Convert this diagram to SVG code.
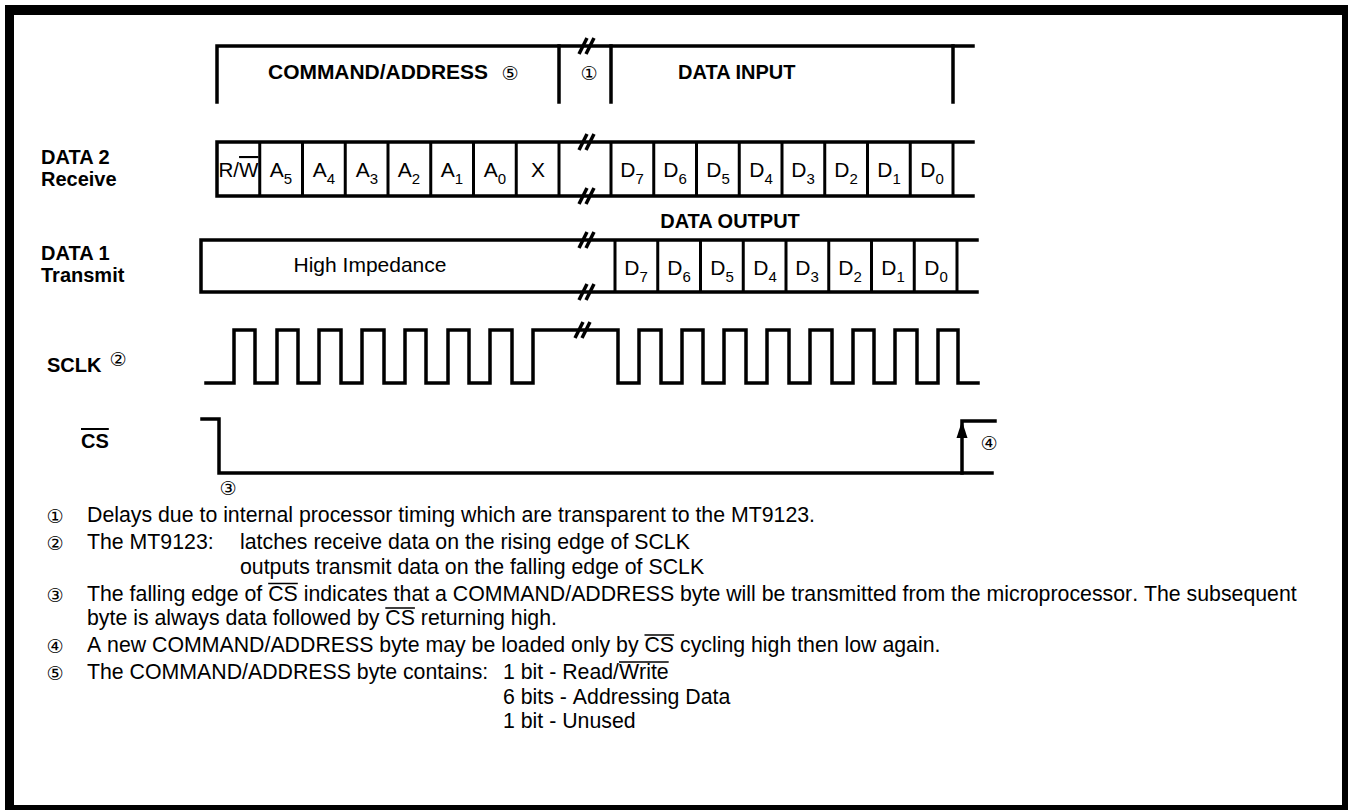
<svg xmlns="http://www.w3.org/2000/svg" xmlns:xlink="http://www.w3.org/1999/xlink" width="1348" height="811" viewBox="0 0 1348 811">
<defs>
<style>
.ln{stroke:#000;stroke-width:3.5;fill:none;stroke-linecap:square}
.cl{stroke:#000;stroke-width:3;fill:none}
.brk{stroke:#000;stroke-width:3.5;fill:none;stroke-linecap:butt}
.ovl{stroke:#000;stroke-width:1.4;fill:none}
.lbl{font-family:"Liberation Sans",Arial,sans-serif;font-weight:bold;font-size:20px;fill:#000}
.cell{font-family:"Liberation Sans",Arial,sans-serif;font-size:21px;text-anchor:middle;fill:#000}
.sub{font-size:15px}
.note{font-family:"Liberation Sans",Arial,sans-serif;font-size:21.3px;fill:#000;font-kerning:none}
.circ{font-family:"DejaVu Sans","Noto Sans CJK JP",sans-serif;font-size:19px;text-anchor:middle;fill:#000}
.ov{text-decoration:overline}
</style>
<path id="brk" class="brk" d="M-8,8 L0,-8 M-1,8 L7,-8"/>
</defs>
<rect width="1348" height="811" fill="#fff"/>
<path id="frame" d="M5,5 H1348 V810 H5 Z M14,15 V805 H1342 V15 Z" fill="#000" fill-rule="evenodd"/>

<g id="labels">
<text class="lbl" x="41" y="164">DATA 2</text>
<text class="lbl" x="41" y="186">Receive</text>
<text class="lbl" x="41" y="260">DATA 1</text>
<text class="lbl" x="41" y="282">Transmit</text>
<text class="lbl" x="47" y="372">SCLK</text>
<text class="circ" x="118" y="366">②</text>
<text class="lbl" x="81" y="448"><tspan class="ov">CS</tspan></text>
</g>

<g id="header">
<path class="ln" d="M217,102 V46 H973"/>
<path class="ln" d="M559,46 V102 M611,46 V102 M953,46 V102"/>
<use xlink:href="#brk" x="587" y="46"/>
<text class="lbl" x="268" y="79" textLength="220" lengthAdjust="spacingAndGlyphs">COMMAND/ADDRESS</text>
<text class="circ" x="510" y="80">⑤</text>
<text class="circ" x="589" y="80">①</text>
<text class="lbl" x="678" y="79">DATA INPUT</text>
</g>

<g id="data2">
<path class="ln" d="M973,142 H217 V196 H973"/>
<path class="cl" d="M259.75,142V196 M302.5,142V196 M345.25,142V196 M388,142V196 M430.75,142V196 M473.5,142V196 M516.25,142V196 M559,142V196 M611,142V196 M653.75,142V196 M696.5,142V196 M739.25,142V196 M782,142V196 M824.75,142V196 M867.5,142V196 M910.25,142V196 M953,142V196"/>
<use xlink:href="#brk" x="587" y="142"/>
<use xlink:href="#brk" x="587" y="196"/>
<text class="cell" x="238.5" y="177" textLength="40" lengthAdjust="spacingAndGlyphs">R/<tspan class="ov">W</tspan></text>
<text class="cell" x="281" y="177">A<tspan class="sub" dy="7">5</tspan></text>
<text class="cell" x="324" y="177">A<tspan class="sub" dy="7">4</tspan></text>
<text class="cell" x="367" y="177">A<tspan class="sub" dy="7">3</tspan></text>
<text class="cell" x="409" y="177">A<tspan class="sub" dy="7">2</tspan></text>
<text class="cell" x="452" y="177">A<tspan class="sub" dy="7">1</tspan></text>
<text class="cell" x="495" y="177">A<tspan class="sub" dy="7">0</tspan></text>
<text class="cell" x="538" y="177">X</text>
<text class="cell" x="632" y="177">D<tspan class="sub" dy="7">7</tspan></text>
<text class="cell" x="675" y="177">D<tspan class="sub" dy="7">6</tspan></text>
<text class="cell" x="718" y="177">D<tspan class="sub" dy="7">5</tspan></text>
<text class="cell" x="761" y="177">D<tspan class="sub" dy="7">4</tspan></text>
<text class="cell" x="803" y="177">D<tspan class="sub" dy="7">3</tspan></text>
<text class="cell" x="846" y="177">D<tspan class="sub" dy="7">2</tspan></text>
<text class="cell" x="889" y="177">D<tspan class="sub" dy="7">1</tspan></text>
<text class="cell" x="932" y="177">D<tspan class="sub" dy="7">0</tspan></text>
</g>

<g id="data1">
<text class="lbl" x="730" y="228" text-anchor="middle">DATA OUTPUT</text>
<path class="ln" d="M977,240 H201 V292 H977"/>
<path class="cl" d="M615,240V292 M657.75,240V292 M700.5,240V292 M743.25,240V292 M786,240V292 M828.75,240V292 M871.5,240V292 M914.25,240V292 M957,240V292"/>
<use xlink:href="#brk" x="587" y="240"/>
<use xlink:href="#brk" x="587" y="292"/>
<text class="cell" x="370" y="272">High Impedance</text>
<text class="cell" x="636" y="275">D<tspan class="sub" dy="7">7</tspan></text>
<text class="cell" x="679" y="275">D<tspan class="sub" dy="7">6</tspan></text>
<text class="cell" x="722" y="275">D<tspan class="sub" dy="7">5</tspan></text>
<text class="cell" x="765" y="275">D<tspan class="sub" dy="7">4</tspan></text>
<text class="cell" x="807" y="275">D<tspan class="sub" dy="7">3</tspan></text>
<text class="cell" x="850" y="275">D<tspan class="sub" dy="7">2</tspan></text>
<text class="cell" x="893" y="275">D<tspan class="sub" dy="7">1</tspan></text>
<text class="cell" x="936" y="275">D<tspan class="sub" dy="7">0</tspan></text>
</g>

<g id="sclk">
<path class="ln" d="M206,383 H234 V330 H255 V383 H277 V330 H298 V383 H319 V330 H341 V383 H362 V330 H384 V383 H405 V330 H426 V383 H448 V330 H469 V383 H490 V330 H512 V383 H533 V330 H618 V383 H639 V330 H661 V383 H682 V330 H703 V383 H724 V330 H746 V383 H767 V330 H789 V383 H810 V330 H832 V383 H853 V330 H874 V383 H895 V330 H917 V383 H938 V330 H958 V383 H978"/>
<use xlink:href="#brk" x="583" y="330"/>
</g>

<g id="cs">
<path class="ln" d="M202,419 H219 V473 H992"/>
<path class="ln" d="M962,473 V421 H995"/>
<polygon points="962,421 956.5,438 967.5,438" fill="#000"/>
<text class="circ" x="989" y="450">④</text>
<text class="circ" x="228" y="495">③</text>
</g>

<g id="notes">
<text class="circ" x="55" y="523">①</text>
<text class="note" x="87" y="522">Delays due to internal processor timing which are transparent to the MT9123.</text>
<text class="circ" x="55" y="550">②</text>
<text class="note" x="87" y="549">The MT9123:</text>
<text class="note" x="240" y="549">latches receive data on the rising edge of SCLK</text>
<text class="note" x="240" y="573.5">outputs transmit data on the falling edge of SCLK</text>
<text class="circ" x="55" y="601.5">③</text>
<text class="note" x="87" y="600.5">The falling edge of CS indicates that a COMMAND/ADDRESS byte will be transmitted from the microprocessor. The subsequent</text>
<text class="note" x="87" y="625">byte is always data followed by CS returning high.</text>
<text class="circ" x="55" y="653">④</text>
<text class="note" x="87" y="652">A new COMMAND/ADDRESS byte may be loaded only by CS cycling high then low again.</text>
<text class="circ" x="55" y="680">⑤</text>
<text class="note" x="87" y="679">The COMMAND/ADDRESS byte contains:</text>
<text class="note" x="503" y="679">1 bit - Read/Write</text>
<text class="note" x="503" y="703.5">6 bits - Addressing Data</text>
<text class="note" x="503" y="728">1 bit - Unused</text>
<path class="ovl" d="M268.2,583.5 H297.8 M385.3,608 H414.9 M644.5,635 H674.1 M619,662 H668.7"/>
</g>
</svg>
